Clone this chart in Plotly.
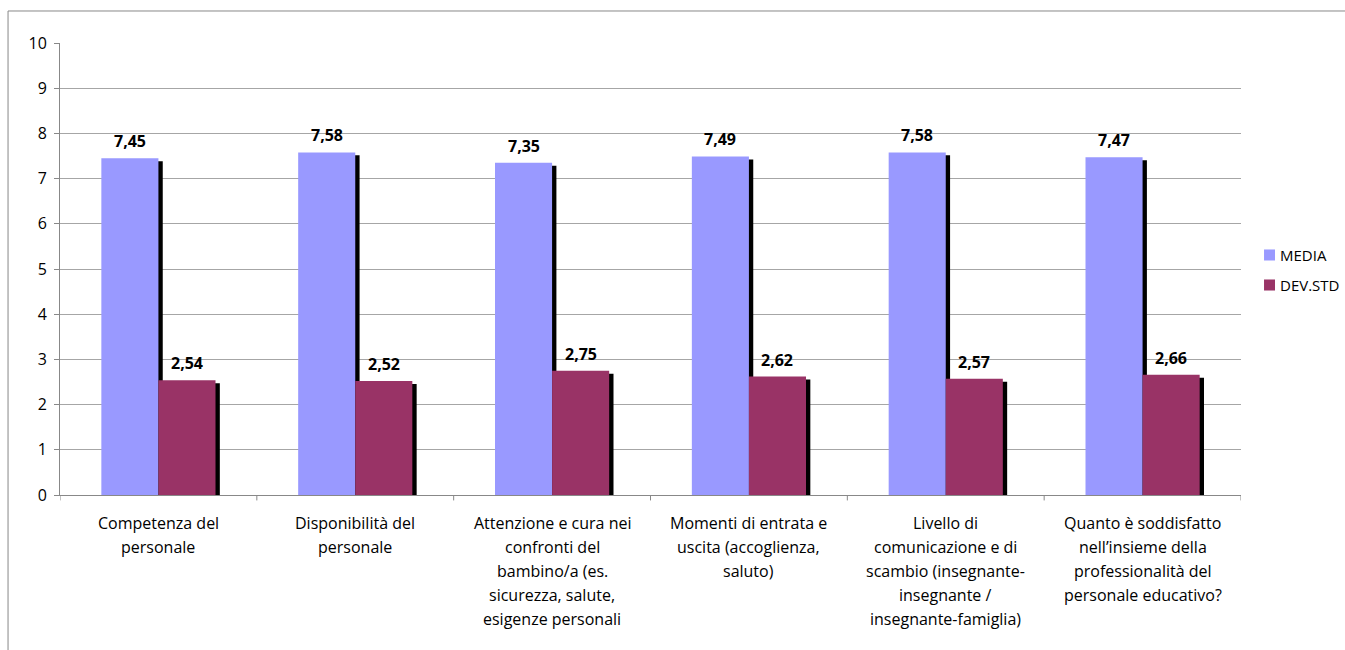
import plotly.graph_objects as go

# Category labels (line breaks as shown under the axis)
categories = [
    "Competenza del\npersonale",
    "Disponibilità del\npersonale",
    "Attenzione e cura nei\nconfronti del\nbambino/a (es.\nsicurezza, salute,\nesigenze personali",
    "Momenti di entrata e\nuscita (accoglienza,\nsaluto)",
    "Livello di\ncomunicazione e di\nscambio (insegnante-\ninsegnante /\ninsegnante-famiglia)",
    "Quanto è soddisfatto\nnell’insieme della\nprofessionalità del\npersonale educativo?",
]
media = [7.45, 7.58, 7.35, 7.49, 7.58, 7.47]
dev_std = [2.54, 2.52, 2.75, 2.62, 2.57, 2.66]
series_names = ["MEDIA", "DEV.STD"]
series_colors = ["#9999FF", "#993366"]
y_ticks = list(range(0, 11))

FONT = "Open Sans"
x = list(range(len(categories)))
bar_w = 0.29          # width of each bar in category units
shadow_dx = 0.022     # shadow shift to the right (category units)
shadow_dy = 0.066     # shadow shift downward (value units)

fig = go.Figure()

# drop shadows drawn first, behind the bars
for vals, off in [(media, -bar_w), (dev_std, 0.0)]:
    fig.add_trace(go.Bar(
        x=x, y=vals, base=[-shadow_dy] * len(vals),
        offset=off + shadow_dx, width=bar_w,
        marker=dict(color="black", line=dict(width=0)),
        showlegend=False, hoverinfo="skip",
    ))

for name, vals, col, off in zip(series_names, [media, dev_std], series_colors,
                                [-bar_w, 0.0]):
    fig.add_trace(go.Bar(
        x=x, y=vals, name=name, offset=off, width=bar_w,
        marker=dict(color=col, line=dict(width=0)),
        showlegend=False,
    ))

# value labels above each bar
for vals, off in [(media, -bar_w / 2), (dev_std, bar_w / 2)]:
    for xi, v in zip(x, vals):
        fig.add_annotation(
            x=xi + off, y=v, text=f"{v:.2f}".replace(".", ","),
            showarrow=False, yanchor="middle", yshift=17,
            font=dict(family=FONT, size=16, color="black", weight="bold"),
        )

# category labels, one annotation per line for wider line spacing
for xi, lab in zip(x, categories):
    for k, line in enumerate(lab.split("\n")):
        fig.add_annotation(
            x=xi, y=0, xref="x", yref="y", text=line,
            showarrow=False, yanchor="middle", xanchor="center",
            yshift=-28 - 24 * k,
            font=dict(family=FONT, size=16, color="black"),
        )

# category boundary tick marks
for b in [i - 0.5 for i in range(len(categories) + 1)]:
    fig.add_shape(type="line", xref="x", yref="paper", x0=b, x1=b, y0=0, y1=-0.012,
                  line=dict(color="#888888", width=1))

# legend: colour squares with series names
leg_y = [0.531, 0.4646]
for name, col, ly in zip(series_names, series_colors, leg_y):
    fig.add_shape(type="rect", xref="paper", yref="paper",
                  x0=1.0195, x1=1.0288, y0=ly - 0.0122, y1=ly + 0.0122,
                  line=dict(width=0), fillcolor=col)
    fig.add_annotation(x=1.0339, y=ly, xref="paper", yref="paper", text=name,
                       showarrow=False, xanchor="left", yanchor="middle",
                       xshift=-2, borderpad=0,
                       font=dict(family=FONT, size=15, color="black"))

# outer chart border
fig.add_shape(type="rect", xref="paper", yref="paper",
              x0=-0.044, x1=1.2, y0=-0.5, y1=1.0708,
              line=dict(color="#888888", width=1), fillcolor="rgba(0,0,0,0)")

fig.update_layout(
    width=1345, height=650,
    margin=dict(l=60, r=104, t=43, b=155),
    paper_bgcolor="white", plot_bgcolor="white",
    barmode="overlay", showlegend=False,
    font=dict(family=FONT, size=15, color="black"),
    xaxis=dict(range=[-0.5, len(categories) - 0.5], showticklabels=False,
               showgrid=False, zeroline=False, showline=True,
               linecolor="#888888", linewidth=1, ticks=""),
    yaxis=dict(range=[0, 10], tickvals=y_ticks, showgrid=True,
               gridcolor="#A6A6A6", gridwidth=1, zeroline=False,
               showline=True, linecolor="#888888", linewidth=1,
               ticks="outside", ticklen=5, tickcolor="#888888",
               ticklabelstandoff=4,
               tickfont=dict(family=FONT, size=16, color="black")),
)

fig.write_html("out.html")
